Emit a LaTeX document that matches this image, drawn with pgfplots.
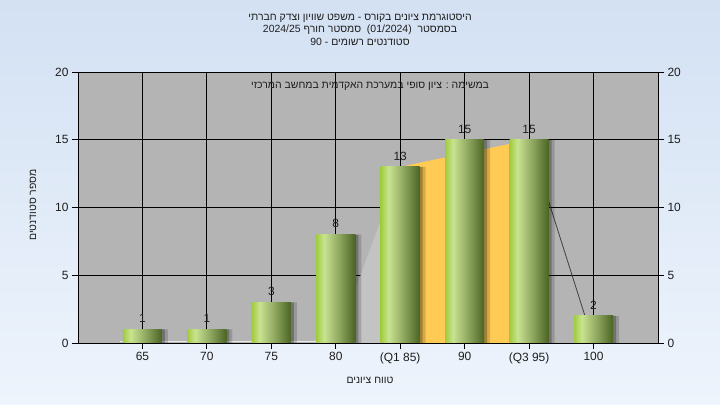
\documentclass[border=0pt]{standalone}
\usepackage{pgfplots}
\pgfplotsset{compat=1.18}
\usepackage{fontspec}
\setmainfont{Liberation Sans}
\newfontfamily\hebfont[Script=Hebrew]{Liberation Sans}
\TeXXeTstate=1
\definecolor{bgtop}{HTML}{D3E1F3}
\definecolor{bgbot}{HTML}{EEF4FC}
\definecolor{plotbg}{HTML}{B4B4B4}
\definecolor{areagrey}{HTML}{C3C3C3}
\definecolor{iqr}{HTML}{FFCB55}
\definecolor{barL}{HTML}{A0CC40}
\definecolor{barH}{HTML}{C9E391}
\definecolor{barM}{HTML}{8CA45E}
\definecolor{barD}{HTML}{4A6422}
\definecolor{txt}{HTML}{1E1E1E}
\pgfdeclarehorizontalshading{barshade}{100bp}{color(0bp)=(barL); color(25bp)=(barL); color(35bp)=(barH); color(55bp)=(barM); color(75bp)=(barD); color(100bp)=(barD)}
\pgfplotsset{
  greenbar/.style={ybar, bar width=39bp, bar shift=0bp, shade, shading=barshade, draw=none,
    nodes near coords,
    every node near coord/.append style={font=\fontsize{12}{14}\selectfont, text=txt, anchor=south, yshift=3bp}},
  shadowbar/.style={ybar, bar width=39bp, fill=black, draw=none},
}
\begin{document}
\begin{tikzpicture}
\shade[top color=bgtop, bottom color=bgbot] (0bp,0bp) rectangle (720bp,405bp);
\begin{axis}[
  at={(78bp,62bp)}, anchor=south west,
  scale only axis, width=580bp, height=271bp,
  xmin=-1, xmax=8, ymin=0, ymax=20,
  xtick={0,...,7},
  xticklabels={65,70,75,80,(Q1 85),90,(Q3 95),100},
  ytick={0,5,10,15,20},
  /pgf/number format/assume math mode=true,
  ticklabel style={font=\fontsize{12}{14}\selectfont, text=txt},
  tick align=outside, major tick length=6bp,
  xtick pos=bottom, ytick pos=left,
  tick style={black, line width=0.8bp},
  axis line style={black, line width=0.8bp},
  grid=major, grid style={black, line width=0.9bp},
  axis background/.style={fill=plotbg},
  clip=false,
]
\addplot[fill=areagrey, draw=none] coordinates {(3,0) (4,13)} \closedcycle;
\addplot[fill=iqr, draw=none] coordinates {(4,13) (5,14) (6,15)} \closedcycle;
\addplot[draw=black!75, line width=0.8bp] coordinates {(6,15) (7,0)};
\addplot[draw=white!70!plotbg, line width=0.9bp] coordinates {(-0.35,0.08) (3,0.08)};
\addplot[shadowbar, bar shift=6bp, opacity=0.16] coordinates {(0,1)(1,1)(2,3)(3,8)(4,13)(5,15)(6,15)(7,2)};
\addplot[shadowbar, bar shift=3bp, opacity=0.25] coordinates {(0,1)(1,1)(2,3)(3,8)(4,13)(5,15)(6,15)(7,2)};
\addplot[greenbar] coordinates {(0,1)};
\addplot[greenbar] coordinates {(1,1)};
\addplot[greenbar] coordinates {(2,3)};
\addplot[greenbar] coordinates {(3,8)};
\addplot[greenbar] coordinates {(4,13)};
\addplot[greenbar] coordinates {(5,15)};
\addplot[greenbar] coordinates {(6,15)};
\addplot[greenbar] coordinates {(7,2)};
\end{axis}
\begin{axis}[
  at={(78bp,62bp)}, anchor=south west,
  scale only axis, width=580bp, height=271bp,
  xmin=-1, xmax=8, ymin=0, ymax=20,
  axis x line=none, axis y line*=right,
  ytick={0,5,10,15,20},
  /pgf/number format/assume math mode=true,
  ticklabel style={font=\fontsize{12}{14}\selectfont, text=txt},
  tick align=outside, major tick length=6bp,
  tick style={black, line width=0.8bp},
  axis line style={black, line width=0.8bp},
]
\addplot[draw=none] coordinates {(0,0)};
\end{axis}
\node[font=\hebfont\fontsize{10.5}{12}\selectfont, text=txt] at (360bp,387bp) {\beginR היסטוגרמת ציונים בקורס - משפט שוויון וצדק חברתי\endR};
\node[font=\hebfont\fontsize{10.5}{12}\selectfont, text=txt] at (360bp,375bp) {\beginR בסמסטר \ \beginL(01/2024)\endL{} \ סמסטר חורף \beginL2024/25\endL\endR};
\node[font=\hebfont\fontsize{10.5}{12}\selectfont, text=txt] at (360bp,363bp) {\beginR סטודנטים רשומים - \beginL90\endL\endR};
\node[font=\hebfont\fontsize{10.5}{12}\selectfont, text=txt] at (370bp,319bp) {\beginR במשימה : ציון סופי במערכת האקדמית במחשב המרכזי\endR};
\node[font=\hebfont\fontsize{10.5}{12}\selectfont, text=txt, rotate=90] at (33bp,200bp) {\beginR מספר סטודנטים\endR};
\node[font=\hebfont\fontsize{10.5}{12}\selectfont, text=txt] at (370bp,25bp) {\beginR טווח ציונים\endR};
\end{tikzpicture}
\end{document}
